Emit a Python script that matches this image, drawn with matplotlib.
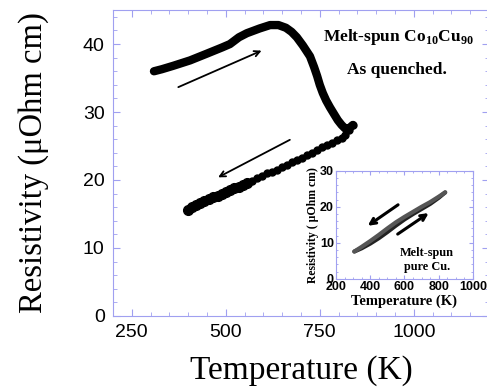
import matplotlib
matplotlib.use('Agg')
from matplotlib import pyplot as plt
from matplotlib.ticker import MultipleLocator

# Main data: melt-spun Co10Cu90, as quenched (heating run)
heat_T = [309, 330, 360, 405, 450, 490, 511, 535, 556, 590, 618, 640, 660, 675,
          689, 705, 724, 735, 743, 750, 758, 767, 777, 788, 798, 808, 817, 825,
          832, 838]
heat_R = [36.0, 36.3, 36.8, 37.6, 38.6, 39.5, 40.0, 41.0, 41.6, 42.3, 42.8, 42.8,
          42.4, 41.8, 41.0, 39.8, 38.2, 36.6, 35.3, 34.0, 32.8, 31.7, 30.7, 29.7,
          28.8, 28.1, 27.6, 27.5, 27.8, 28.1]

# cooling run
cool_T = [838, 828, 818, 808, 796, 783, 769, 756, 742, 729, 716, 703, 689, 676,
          663, 650, 636, 623, 610, 597, 583, 570, 556, 545, 534, 522, 511, 500,
          489, 478, 466, 455, 443, 431, 420, 410, 399]
cool_R = [28.1, 27.4, 26.6, 26.2, 25.9, 25.5, 25.1, 24.8, 24.4, 24.0, 23.7, 23.3,
          22.9, 22.6, 22.2, 21.9, 21.5, 21.2, 21.0, 20.6, 20.3, 19.9, 19.6, 19.3,
          19.0, 18.8, 18.5, 18.2, 18.0, 17.7, 17.5, 17.2, 16.9, 16.6, 16.3, 16.0,
          15.6]

# Inset data: melt-spun pure Cu
cu_heat_T = [307, 350, 400, 450, 500, 550, 600, 650, 700, 750, 800, 838]
cu_heat_R = [7.6, 8.5, 9.8, 11.3, 13.0, 14.8, 16.5, 18.0, 19.4, 20.8, 22.5, 24.0]
cu_cool_T = [307, 350, 400, 450, 500, 550, 600, 650, 700, 750, 800, 838]
cu_cool_R = [7.6, 8.9, 10.5, 12.2, 14.0, 15.7, 17.2, 18.6, 20.0, 21.3, 22.8, 24.0]

main_xticks = [250, 500, 750, 1000]
main_yticks = [0, 10, 20, 30, 40]
inset_xticks = [200, 400, 600, 800, 1000]
inset_yticks = [0, 10, 20, 30]

frame = '#a0a0f0'
plt.rcParams['mathtext.fontset'] = 'custom'
plt.rcParams['mathtext.rm'] = 'Liberation Serif:bold'

fig = plt.figure(figsize=(4.87, 3.89), dpi=100)
ax = fig.add_axes([0.232, 0.188, 0.772, 0.786])

ax.plot(heat_T, heat_R, c='black', lw=6, solid_capstyle='round',
        solid_joinstyle='round')
# sparse dots at high T, dense big dots at low T
hi = [i for i, t in enumerate(cool_T) if t > 560]
lo = [i for i, t in enumerate(cool_T) if t <= 560]
ax.plot([cool_T[i] for i in hi], [cool_R[i] for i in hi], 'o', c='black', ms=5)
ax.plot([cool_T[i] for i in lo], [cool_R[i] for i in lo], 'o', c='black', ms=7)

ax.annotate('', xy=(602, 39.2), xytext=(367, 33.5),
            arrowprops=dict(arrowstyle='->', lw=1.3, color='black'))
ax.annotate('', xy=(473, 20.2), xytext=(677, 26.1),
            arrowprops=dict(arrowstyle='->', lw=1.3, color='black'))

ax.text(958, 41.1, r'Melt-spun Co$_{10}$Cu$_{90}$', ha='center', va='center',
        family='Liberation Serif', weight='bold', fontsize=12.5)
ax.text(955, 36.2, 'As quenched.', ha='center', va='center',
        family='Liberation Serif', weight='bold', fontsize=12.5)

ax.set_xlim(200, 1200)
ax.set_ylim(0, 45)
ax.set_xticks(main_xticks)
ax.set_yticks(main_yticks)
ax.xaxis.set_minor_locator(MultipleLocator(50))
ax.yaxis.set_minor_locator(MultipleLocator(2))
ax.tick_params(which='both', direction='in', top=True, right=True, color=frame)
ax.tick_params(which='major', length=5, labelsize=14, pad=6)
ax.tick_params(which='minor', length=3)
for lab in ax.get_xticklabels() + ax.get_yticklabels():
    lab.set_family('Liberation Sans')
for s in ax.spines.values():
    s.set_color(frame)
ax.set_xlabel('Temperature (K)', family='Liberation Serif', fontsize=24,
              labelpad=10)
ax.set_ylabel('Resistivity (\u03bcOhm cm)', family='Liberation Serif',
              fontsize=23.5, labelpad=24)

# Inset
ins = fig.add_axes([0.690, 0.283, 0.281, 0.278])
ins.plot(cu_heat_T, cu_heat_R, c='#222222', lw=3, solid_capstyle='round')
ins.plot(cu_cool_T, cu_cool_R, c='#555555', lw=3, solid_capstyle='round')
ins.annotate('', xy=(372, 14.3), xytext=(576, 21.0),
             arrowprops=dict(arrowstyle='->', lw=2.2, color='black'))
ins.annotate('', xy=(755, 18.7), xytext=(547, 12.0),
             arrowprops=dict(arrowstyle='->', lw=2.2, color='black'))
ins.text(731, 7.2, 'Melt-spun', ha='center', va='center',
         family='Liberation Serif', weight='bold', fontsize=8.8)
ins.text(731, 3.4, 'pure Cu.', ha='center', va='center',
         family='Liberation Serif', weight='bold', fontsize=8.8)
ins.set_xlim(200, 1000)
ins.set_ylim(0, 30)
ins.set_xticks(inset_xticks)
ins.set_yticks(inset_yticks)
ins.xaxis.set_minor_locator(MultipleLocator(50))
ins.yaxis.set_minor_locator(MultipleLocator(2))
ins.tick_params(which='both', direction='in', top=True, right=True, color=frame)
ins.tick_params(which='major', length=3, labelsize=9, pad=1.5)
ins.tick_params(which='minor', length=1.5)
for lab in ins.get_xticklabels() + ins.get_yticklabels():
    lab.set_family('Liberation Sans')
    lab.set_weight('bold')
for s in ins.spines.values():
    s.set_color(frame)
ins.set_xlabel('Temperature (K)', family='Liberation Serif', weight='bold',
               fontsize=10.5, labelpad=1)
ins.set_ylabel('Resistivity ( \u03bcOhm cm)', family='Liberation Serif',
               weight='bold', fontsize=8.5, labelpad=1)

fig.savefig('out.png', dpi=100)
